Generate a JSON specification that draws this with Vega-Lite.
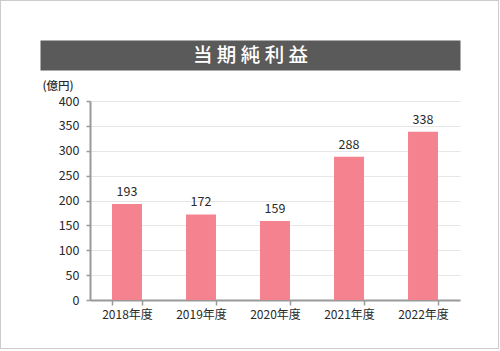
{
  "$schema": "https://vega.github.io/schema/vega-lite/v6.json",
  "autosize": "none",
  "padding": 0,
  "background": "white",
  "width": 499,
  "height": 349,
  "view": {"stroke": "#cccccc", "strokeWidth": 2, "fill": "white"},
  "config": {
    "font": "Noto Sans CJK JP",
    "text": {"font": "Noto Sans CJK JP"}
  },
  "resolve": {"scale": {"x": "independent"}, "axis": {"x": "independent"}},
  "layer": [
    {
      "data": {"values": [
        {"year": "2018年度", "value": 193},
        {"year": "2019年度", "value": 172},
        {"year": "2020年度", "value": 159},
        {"year": "2021年度", "value": 288},
        {"year": "2022年度", "value": 338}
      ]},
      "encoding": {
        "x": {
          "field": "year",
          "type": "ordinal",
          "sort": null,
          "scale": {"range": [90, 460], "paddingInner": 0.595, "paddingOuter": 0.2975},
          "axis": {
            "orient": "bottom",
            "offset": -49,
            "title": null,
            "labelAngle": 0,
            "labelFontSize": 12,
            "labelColor": "#2a2a2a",
            "labelFont": "Noto Sans CJK JP",
            "labelPadding": 4,
            "tickBand": "extent",
            "tickSize": 5,
            "tickColor": "#999999",
            "tickWidth": 1.5,
            "domainColor": "#999999",
            "domainWidth": 2,
            "grid": false
          }
        },
        "y": {
          "field": "value",
          "type": "quantitative",
          "scale": {"domain": [0, 400], "nice": false, "range": [300, 101]},
          "axis": {
            "orient": "left",
            "offset": -90,
            "values": [0, 50, 100, 150, 200, 250, 300, 350, 400],
            "title": "(億円)",
            "titleAngle": 0,
            "titleX": -48,
            "titleY": 86,
            "titleAlign": "left",
            "titleBaseline": "middle",
            "titleFontSize": 11.5,
            "titleFontWeight": 500,
            "titleColor": "#2a2a2a",
            "titleFont": "Noto Sans CJK JP",
            "labelFontSize": 12.5,
            "labelColor": "#2a2a2a",
            "labelFont": "Noto Sans CJK JP",
            "labelPadding": 7,
            "tickSize": 4,
            "tickColor": "#999999",
            "tickWidth": 1.5,
            "domainColor": "#999999",
            "domainWidth": 2,
            "grid": true,
            "gridColor": "#e6e6e6",
            "gridWidth": 1
          }
        }
      },
      "layer": [
        {"mark": {"type": "bar", "color": "#f5838f"}},
        {
          "mark": {"type": "text", "baseline": "bottom", "dy": -5, "fontSize": 12.5, "color": "#2a2a2a"},
          "encoding": {"text": {"field": "value", "type": "quantitative"}}
        }
      ]
    },
    {
      "data": {"values": [{"pos": 0, "label": ""}]},
      "mark": {"type": "text"},
      "encoding": {
        "x": {
          "field": "pos",
          "type": "quantitative",
          "scale": {"domain": [0, 1], "range": [40, 460]},
          "axis": {
            "orient": "top",
            "offset": -55,
            "domain": true,
            "domainWidth": 30,
            "domainColor": "#5a5a5a",
            "domainCap": "butt",
            "ticks": false,
            "labels": false,
            "grid": false,
            "title": "当 期 純 利 益",
            "titleX": 250,
            "titleY": 0,
            "titleAlign": "center",
            "titleBaseline": "middle",
            "titleAngle": 0,
            "titleColor": "white",
            "titleFontSize": 19.5,
            "titleFontWeight": 500,
            "titleFont": "Noto Sans CJK JP"
          }
        },
        "text": {"field": "label"}
      }
    }
  ]
}
